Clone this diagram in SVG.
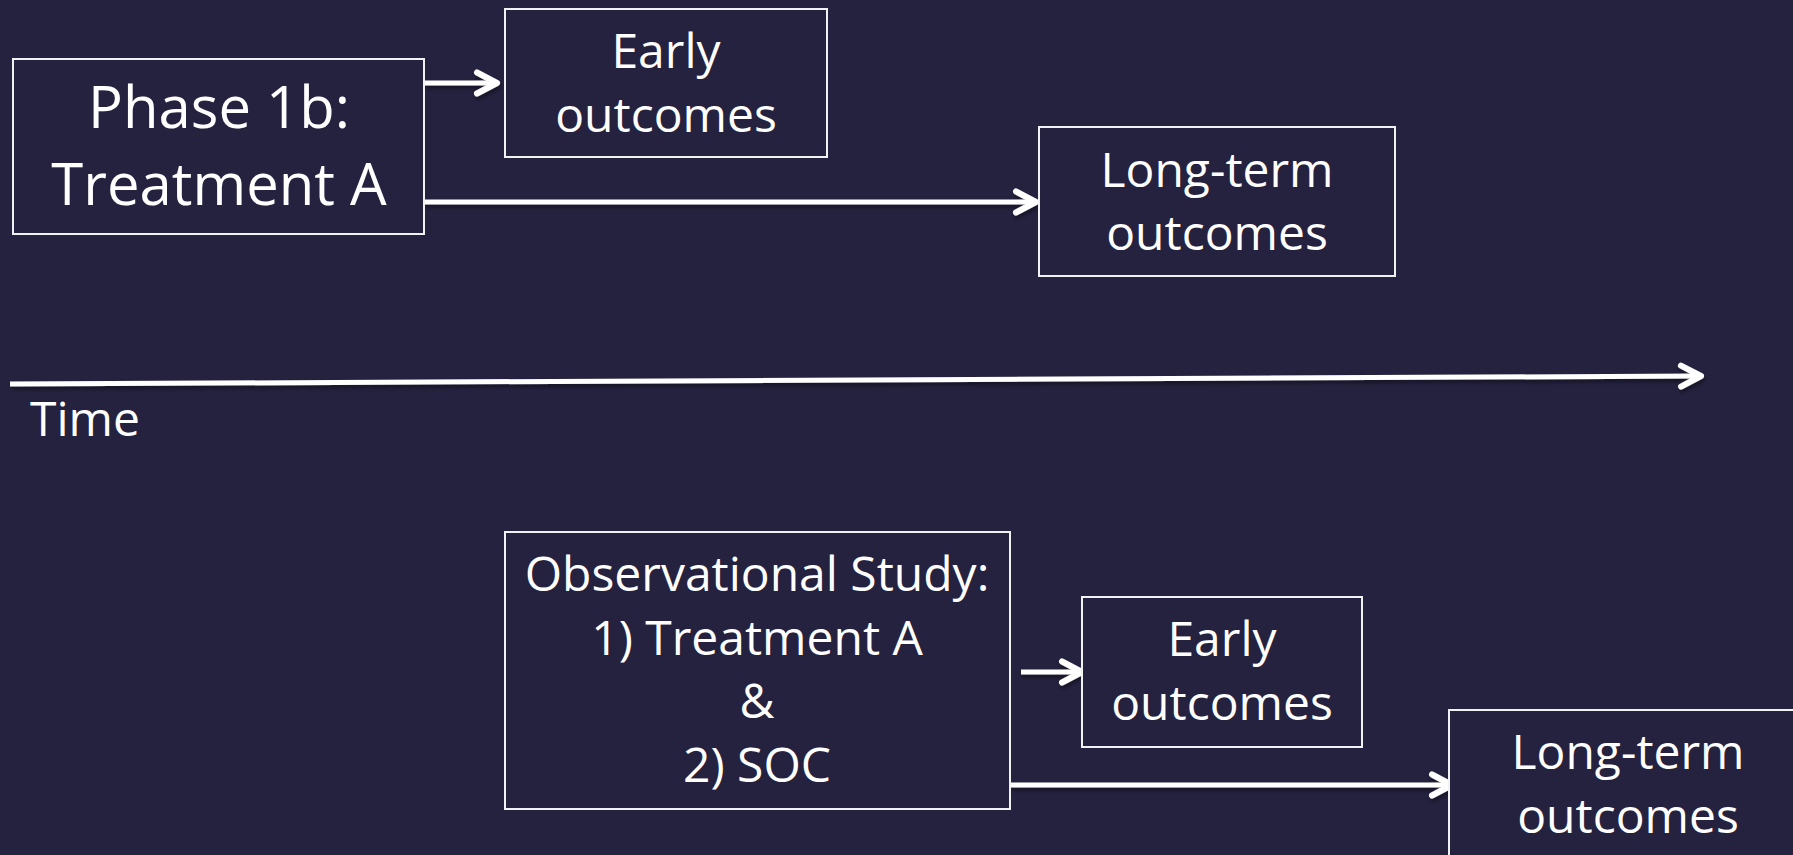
<svg xmlns="http://www.w3.org/2000/svg" width="1793" height="855" viewBox="0 0 1793 855">
  <defs>
    <style>
      .box { fill: #252240; stroke: #f2f2f2; stroke-width: 2; }
      .label { font-family: "Open Sans", "Noto Sans", sans-serif; font-size: 48px; fill: #ffffff; text-anchor: middle; }
      .big { font-size: 58px; }
      .conn { stroke: #ffffff; stroke-width: 5; fill: none; marker-end: url(#chevron); }
    </style>
    <marker id="chevron" markerUnits="userSpaceOnUse" viewBox="-26 -15 30 30" markerWidth="30" markerHeight="30" refX="0" refY="0" orient="auto">
      <path d="M-20,-10.5 L0,0 L-20,10.5" fill="none" stroke="#ffffff" stroke-width="6" stroke-linecap="round" stroke-linejoin="round"/>
    </marker>
    <filter id="shadow" x="-5%" y="-100%" width="110%" height="300%">
      <feDropShadow dx="1" dy="3" stdDeviation="2" flood-color="#000000" flood-opacity="0.45"/>
    </filter>
  </defs>

  <rect width="1793" height="855" fill="#252240"/>

  <!-- connectors -->
  <g id="connectors" filter="url(#shadow)">
    <path class="conn" d="M424,83 L497,83"/>
    <path class="conn" d="M424,202 L1036,202"/>
    <path class="conn" d="M10,384 L1701,376"/>
    <path class="conn" d="M1021,672 L1082,672"/>
    <path class="conn" d="M1010,785 L1452,785"/>
  </g>

  <g id="phase1b">
    <rect class="box" x="13" y="59" width="411" height="175"/>
    <text class="label big" x="219" y="128">Phase 1b:</text>
    <text class="label big" x="219" y="205">Treatment A</text>
  </g>

  <g id="early1">
    <rect class="box" x="505" y="9" width="322" height="148"/>
    <text class="label" x="666" y="68">Early</text>
    <text class="label" x="666" y="132">outcomes</text>
  </g>

  <g id="longterm1">
    <rect class="box" x="1039" y="127" width="356" height="149"/>
    <text class="label" x="1217" y="187">Long-term</text>
    <text class="label" x="1217" y="250">outcomes</text>
  </g>

  <g id="time-axis-label">
    <text class="label" x="30" y="436" style="text-anchor:start">Time</text>
  </g>

  <g id="observational">
    <rect class="box" x="505" y="532" width="505" height="277"/>
    <text class="label" x="757" y="591">Observational Study:</text>
    <text class="label" x="757" y="655">1) Treatment A</text>
    <text class="label" x="757" y="718">&amp;</text>
    <text class="label" x="757" y="782">2) SOC</text>
  </g>

  <g id="early2">
    <rect class="box" x="1082" y="597" width="280" height="150"/>
    <text class="label" x="1222" y="656">Early</text>
    <text class="label" x="1222" y="720">outcomes</text>
  </g>

  <g id="longterm2">
    <rect class="box" x="1449" y="710" width="358" height="150"/>
    <text class="label" x="1628" y="769">Long-term</text>
    <text class="label" x="1628" y="833">outcomes</text>
  </g>
</svg>
